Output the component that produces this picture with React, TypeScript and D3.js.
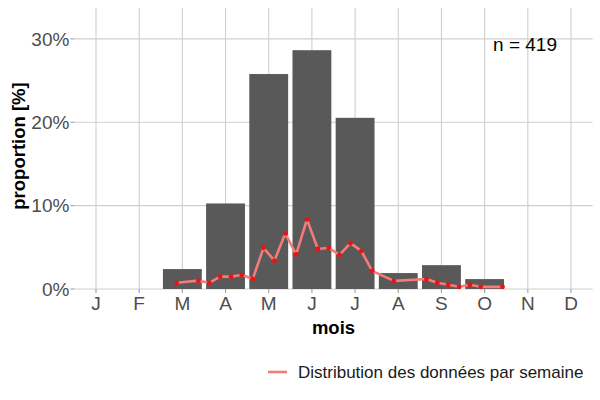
import React from 'react';
import * as d3 from 'd3';

const monthLabels = ['J', 'F', 'M', 'A', 'M', 'J', 'J', 'A', 'S', 'O', 'N', 'D'];
const monthValues = [0, 0, 2.39, 10.26, 25.78, 28.64, 20.53, 1.91, 2.86, 1.19, 0, 0];

// weekly points: week index (from start of series) and share in %
const weekIndex = [0, 2, 3, 4, 5, 6, 7, 8, 9, 10, 11, 12, 13, 14, 15, 16, 17, 18, 20, 23, 24, 25, 26, 27, 28, 30];
const weekValues = [
  0.74, 1.0, 0.74, 1.48, 1.48, 1.7, 1.2, 4.94, 3.4, 6.66, 4.15, 8.35, 4.8,
  4.94, 4.1, 5.5, 4.57, 2.18, 0.98, 1.2, 0.76, 0.52, 0.26, 0.52, 0.26, 0.26,
];
const weekStartMonth = 2.868;
const weekInMonths = 0.2515;

const yTicks = [0, 10, 20, 30];
const nLabel = 'n = 419';
const legendLabel = 'Distribution des données par semaine';

const W = 600;
const H = 400;
const font = 'Liberation Sans, Arial, sans-serif';

export default function App() {
  const margin = { top: 8, right: 8, bottom: 111, left: 75 };
  const x = d3.scaleLinear().domain([0.5, 12.5]).range([margin.left - 0.6, W - margin.right + 0.6]);
  const y = d3.scaleLinear().domain([0, 33.7]).range([H - margin.bottom, margin.top]);
  const bw = (x(2) - x(1)) * 0.9;

  const pts = weekIndex.map((w, i) => ({ m: weekStartMonth + w * weekInMonths, v: weekValues[i] }));
  const line = d3
    .line<{ m: number; v: number }>()
    .x(d => x(d.m))
    .y(d => y(d.v));

  const grid = '#cfcfcf';
  const x0 = x(0.5);
  const x1 = x(12.5);
  const yBottom = y(0);
  const cx = (x0 + x1) / 2;

  return (
    <svg width={W} height={H} style={{ position: 'absolute', left: 0, top: 0 }} fontFamily={font}>
      <rect width={W} height={H} fill="#fff" />
      {/* grid */}
      {yTicks.map(t => (
        <line key={'h' + t} x1={x0} x2={x1} y1={y(t)} y2={y(t)} stroke={grid} strokeWidth={1.1} />
      ))}
      {monthLabels.map((_, i) => (
        <line key={'v' + i} x1={x(i + 1)} x2={x(i + 1)} y1={margin.top} y2={yBottom} stroke={grid} strokeWidth={1.1} />
      ))}
      {/* bars */}
      {monthValues.map((v, i) =>
        v > 0 ? (
          <rect key={'b' + i} x={x(i + 1) - bw / 2} y={y(v)} width={bw} height={yBottom - y(v)} fill="#595959" />
        ) : null
      )}
      {/* weekly line */}
      <path d={line(pts) || ''} fill="none" stroke="#f27c77" strokeWidth={2.6} strokeLinejoin="round" />
      {pts.map((p, i) => (
        <circle key={'p' + i} cx={x(p.m)} cy={y(p.v)} r={2.4} fill="#ee1111" />
      ))}
      {/* y axis */}
      {yTicks.map(t => (
        <g key={'yt' + t}>
          <line x1={x0 - 4} x2={x0} y1={y(t)} y2={y(t)} stroke="#a0a0a0" strokeWidth={1.1} />
          <text x={x0 - 5} y={y(t)} dy="0.36em" textAnchor="end" fontSize={19} fill="#4d4d4d">
            {t}%
          </text>
        </g>
      ))}
      {/* x axis */}
      {monthLabels.map((m, i) => (
        <g key={'xt' + i}>
          <line x1={x(i + 1)} x2={x(i + 1)} y1={yBottom} y2={yBottom + 4} stroke="#a0a0a0" strokeWidth={1.1} />
          <text x={x(i + 1)} y={yBottom + 21} textAnchor="middle" fontSize={19} fill="#4d4d4d">
            {m}
          </text>
        </g>
      ))}
      <text x={cx} y={334} textAnchor="middle" fontSize={18.5} fontWeight="bold" fill="#000">
        mois
      </text>
      <text
        transform={`translate(25,146) rotate(-90)`}
        textAnchor="middle"
        fontSize={18.5}
        fontWeight="bold"
        fill="#000"
      >
        proportion [%]
      </text>
      <text x={525} y={51} textAnchor="middle" fontSize={19} fill="#000">
        {nLabel}
      </text>
      {/* legend */}
      <line x1={268} x2={287} y1={372} y2={372} stroke="#f27c77" strokeWidth={2.6} />
      <text x={298} y={378} fontSize={17} fill="#1a1a1a">
        {legendLabel}
      </text>
    </svg>
  );
}
